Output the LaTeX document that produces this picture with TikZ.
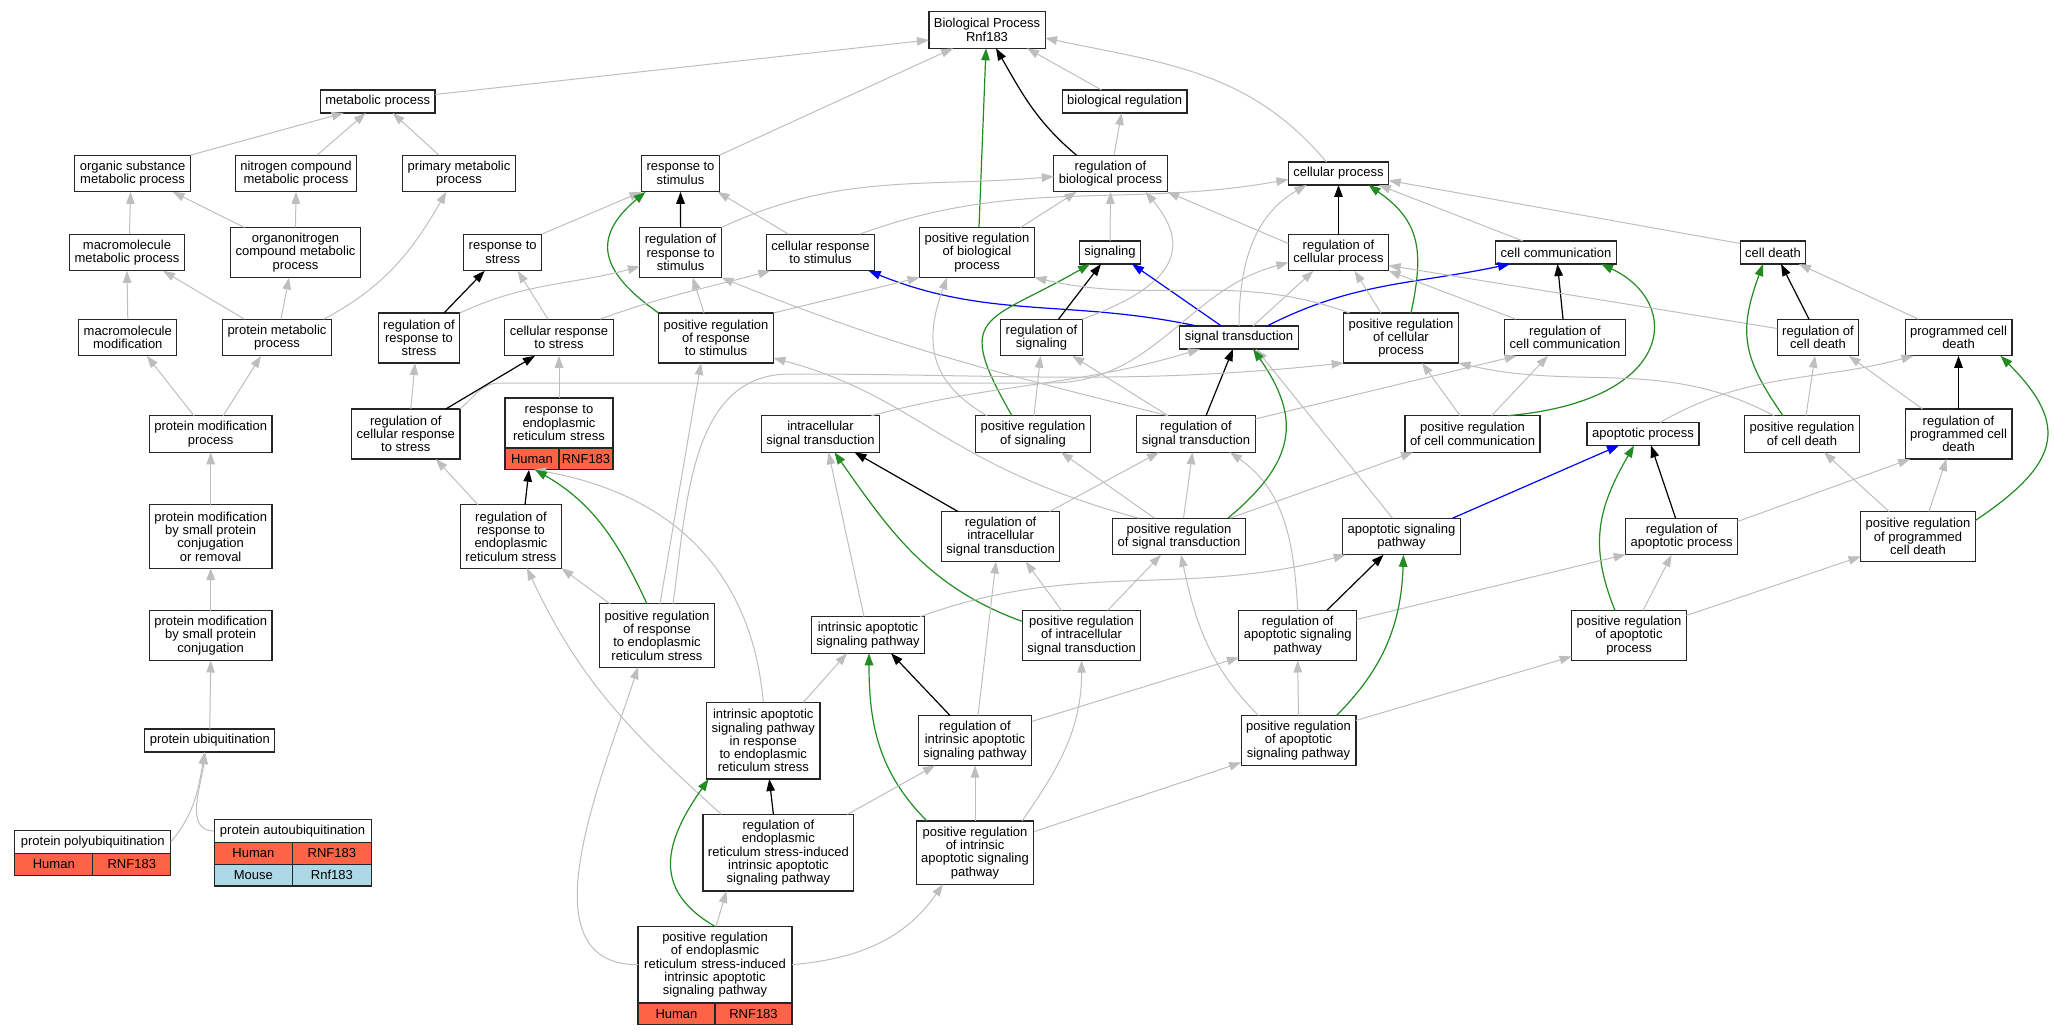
\documentclass[tikz,border=0pt]{standalone}
\usepackage{fontspec}
\setmainfont{Liberation Sans}
\usepackage{tikz}
\usetikzlibrary{arrows.meta}
\definecolor{edgegray}{HTML}{BEBEBE}
\definecolor{posgreen}{HTML}{228B22}
\definecolor{humanred}{HTML}{FF6347}
\definecolor{mouseblue}{HTML}{ADD8E6}
\newcommand{\termfont}{\fontsize{13}{13.3}\selectfont}

\begin{document}
\begin{tikzpicture}[x=1pt,y=1pt]
\tikzstyle{term}=[draw=black!85, line width=1.2pt, fill=white, align=center, inner xsep=5pt, inner ysep=0pt, outer sep=0pt, font=\termfont]
\tikzstyle{l1}=[minimum height=23pt]
\tikzstyle{l2}=[minimum height=36.6pt]
\tikzstyle{l3}=[minimum height=50pt]
\tikzstyle{l4}=[minimum height=63.3pt]
\tikzstyle{l5}=[minimum height=76.6pt]
\tikzstyle{cell}=[draw=black!85, line width=1.2pt, inner sep=0pt, outer sep=0pt, minimum height=21.7pt, font=\termfont]
\tikzstyle{isa}=[draw=edgegray, line width=1pt, -{Triangle[length=12pt,width=8.5pt]}]
\tikzstyle{reg}=[draw=black, line width=1.2pt, -{Triangle[length=12pt,width=8.5pt]}]
\tikzstyle{posreg}=[draw=posgreen, line width=1.2pt, -{Triangle[length=12pt,width=8.5pt]}]
\tikzstyle{partof}=[draw=blue, line width=1.2pt, -{Triangle[length=12pt,width=8.5pt]}]
\useasboundingbox (0,0) rectangle (2054,-1035);

\node[term,l2] (bp) at (987,-30) {Biological Process\\Rnf183};
\node[term,l1] (metab) at (377.7,-101.5) {metabolic process};
\node[term,l1] (bioreg) at (1124.6,-101.5) {biological regulation};
\node[term,l2] (orgsub) at (132.6,-173.5) {organic substance\\metabolic process};
\node[term,l2] (nitro) at (296,-173.5) {nitrogen compound\\metabolic process};
\node[term,l2] (primary) at (459,-173.5) {primary metabolic\\process};
\node[term,l2] (respstim) at (680.5,-173.5) {response to\\stimulus};
\node[term,l2] (regbp) at (1110.5,-173.5) {regulation of\\biological process};
\node[term,l1] (cellproc) at (1338.5,-173.5) {cellular process};
\node[term,l2] (macmet) at (127,-252.5) {macromolecule\\metabolic process};
\node[term,l3] (organonit) at (295.5,-252.5) {organonitrogen\\compound metabolic\\process};
\node[term,l2] (respstress) at (502.7,-252.5) {response to\\stress};
\node[term,l3] (regrespstim) at (680.6,-252.5) {regulation of\\response to\\stimulus};
\node[term,l2] (cellrespstim) at (820.5,-252.5) {cellular response\\to stimulus};
\node[term,l3] (posregbp) at (977,-252.5) {positive regulation\\of biological\\process};
\node[term,l1] (signaling) at (1110,-252.5) {signaling};
\node[term,l2] (regcellproc) at (1338.5,-252.5) {regulation of\\cellular process};
\node[term,l1] (cellcomm) at (1556,-252.5) {cell communication};
\node[term,l1] (celldeath) at (1773,-252.5) {cell death};
\node[term,l2] (macmod) at (127.8,-337.5) {macromolecule\\modification};
\node[term,l2] (protmet) at (277,-337.5) {protein metabolic\\process};
\node[term,l3] (regrespstress) at (419,-338) {regulation of\\response to\\stress};
\node[term,l2] (cellrespstress) at (559,-337.5) {cellular response\\to stress};
\node[term,l3] (posregrespstim) at (716,-338) {positive regulation\\of response\\to stimulus};
\node[term,l2] (regsig) at (1041.5,-337.5) {regulation of\\signaling};
\node[term,l1] (sigtrans) at (1239,-337.5) {signal transduction};
\node[term,l3] (posregcellproc) at (1401,-338) {positive regulation\\of cellular\\process};
\node[term,l2] (regcellcomm) at (1565,-337.5) {regulation of\\cell communication};
\node[term,l2] (regcelldeath) at (1818,-337.5) {regulation of\\cell death};
\node[term,l2] (pcd) at (1958.5,-337.5) {programmed cell\\death};
\node[term,l2] (protmod) at (210.7,-434) {protein modification\\process};
\node[term,l3] (regcellrespstress) at (405.8,-434) {regulation of\\cellular response\\to stress};
\node[term,l3,text width=98pt] (resper) at (559,-423) {response to\\endoplasmic\\reticulum stress};
\node[cell,fill=humanred,minimum width=54pt,anchor=north west] (resperh) at (resper.south west) {Human};
\node[cell,fill=humanred,minimum width=54pt,anchor=north east] (resperg) at (resper.south east) {RNF183};
\node[term,l2] (intrasig) at (820.5,-434) {intracellular\\signal transduction};
\node[term,l2] (posregsig) at (1033,-434) {positive regulation\\of signaling};
\node[term,l2] (regsigtrans) at (1196,-434) {regulation of\\signal transduction};
\node[term,l2] (posregcellcomm) at (1472.5,-434) {positive regulation\\of cell communication};
\node[term,l1] (apoproc) at (1643,-434) {apoptotic process};
\node[term,l2] (posregcelldeath) at (1802,-434) {positive regulation\\of cell death};
\node[term,l3] (regpcd) at (1958.5,-434) {regulation of\\programmed cell\\death};
\node[term,l4] (protmodsmall) at (210.7,-536.5) {protein modification\\by small protein\\conjugation\\or removal};
\node[term,l4] (regresper) at (511,-536.5) {regulation of\\response to\\endoplasmic\\reticulum stress};
\node[term,l3] (regintrasig) at (1000.6,-536.5) {regulation of\\intracellular\\signal transduction};
\node[term,l2] (posregsigtrans) at (1179,-536.5) {positive regulation\\of signal transduction};
\node[term,l2] (aposig) at (1401.5,-536.5) {apoptotic signaling\\pathway};
\node[term,l2] (regapoproc) at (1681.6,-536.5) {regulation of\\apoptotic process};
\node[term,l3] (posregpcd) at (1918,-536.5) {positive regulation\\of programmed\\cell death};
\node[term,l3] (protconj) at (210.7,-635.5) {protein modification\\by small protein\\conjugation};
\node[term,l4] (posregresper) at (657,-635.5) {positive regulation\\of response\\to endoplasmic\\reticulum stress};
\node[term,l2] (intrinsic) at (868,-635) {intrinsic apoptotic\\signaling pathway};
\node[term,l3] (posregintrasig) at (1081.6,-635.5) {positive regulation\\of intracellular\\signal transduction};
\node[term,l3] (regaposig) at (1297.7,-635.5) {regulation of\\apoptotic signaling\\pathway};
\node[term,l3] (posregapoproc) at (1629,-635.5) {positive regulation\\of apoptotic\\process};
\node[term,l1] (protubiq) at (209.8,-740.5) {protein ubiquitination};
\node[term,l5] (intrinsicer) at (763.3,-740.7) {intrinsic apoptotic\\signaling pathway\\in response\\to endoplasmic\\reticulum stress};
\node[term,l3] (regintrinsic) at (975,-740.5) {regulation of\\intrinsic apoptotic\\signaling pathway};
\node[term,l3] (posregaposig) at (1298.5,-740.5) {positive regulation\\of apoptotic\\signaling pathway};
\node[term,l1,minimum width=156pt] (polyubiq) at (92.8,-842) {protein polyubiquitination};
\node[cell,fill=humanred,minimum width=78pt,anchor=north west] (polyh) at (polyubiq.south west) {Human};
\node[cell,fill=humanred,minimum width=78pt,anchor=north east] (polyg) at (polyubiq.south east) {RNF183};
\node[term,l1,minimum width=157pt] (autoubiq) at (292.6,-831) {protein autoubiquitination};
\node[cell,fill=humanred,minimum width=78.5pt,anchor=north west] (autoh) at (autoubiq.south west) {Human};
\node[cell,fill=humanred,minimum width=78.5pt,anchor=north east] (autog) at (autoubiq.south east) {RNF183};
\node[cell,fill=mouseblue,minimum width=78.5pt,anchor=north west] (autom) at (autoh.south west) {Mouse};
\node[cell,fill=mouseblue,minimum width=78.5pt,anchor=north east] (automg) at (autog.south east) {Rnf183};
\node[term,l5] (regerintrinsic) at (778.4,-852.7) {regulation of\\endoplasmic\\reticulum stress-induced\\intrinsic apoptotic\\signaling pathway};
\node[term,l4] (posregintrinsic) at (975,-852.7) {positive regulation\\of intrinsic\\apoptotic signaling\\pathway};
\node[term,l5,text width=144pt] (posregerintr) at (715,-964.7) {positive regulation\\of endoplasmic\\reticulum stress-induced\\intrinsic apoptotic\\signaling pathway};
\node[cell,fill=humanred,minimum width=77pt,anchor=north west] (posregerh) at (posregerintr.south west) {Human};
\node[cell,fill=humanred,minimum width=77pt,anchor=north east] (posregerg) at (posregerintr.south east) {RNF183};

% top
\draw[isa] ([yshift=7pt]metab.east) -- ([yshift=-10pt]bp.west);
\draw[isa] (respstim.north east) -- ([xshift=-34pt]bp.south);
\draw[posreg] ([xshift=2pt]posregbp.north) -- ([xshift=-1pt]bp.south);
\draw[reg] ([xshift=-34pt]regbp.north) to[out=140,in=-60] ([xshift=9pt]bp.south);
\draw[isa] ([xshift=-23pt]bioreg.north) -- ([xshift=40pt]bp.south);
\draw[isa] ([xshift=-12pt]cellproc.north) to[out=130,in=-12] ([yshift=-8pt]bp.east);
\draw[isa] ([xshift=3.5pt]regbp.north) -- ([xshift=-3pt]bioreg.south);

% metabolic
\draw[isa] (orgsub.north east) -- ([xshift=-34pt]metab.south);
\draw[isa] ([xshift=21pt]nitro.north) -- ([xshift=-12pt]metab.south);
\draw[isa] ([xshift=-20pt]primary.north) -- ([xshift=15pt]metab.south);
\draw[isa] ([xshift=2.5pt]macmet.north) -- ([xshift=-2pt]orgsub.south);
\draw[isa] ([xshift=-51pt]organonit.north) -- ([xshift=40pt]orgsub.south);
\draw[isa] (organonit.north) -- (nitro.south);
\draw[isa] (macmod.north) -- (macmet.south);
\draw[isa] ([xshift=-32.5pt]protmet.north) -- ([xshift=36pt]macmet.south);
\draw[isa] ([xshift=4pt]protmet.north) -- ([xshift=-6.5pt]organonit.south);
\draw[isa] ([xshift=46.7pt]protmet.north) to[out=28,in=-120] ([xshift=-12.6pt]primary.south);
\draw[isa] ([xshift=-16.7pt]protmod.north) -- ([xshift=19pt]macmod.south);
\draw[isa] ([xshift=12.5pt]protmod.north) -- ([xshift=-16pt]protmet.south);
\draw[isa] (protmodsmall.north) -- (protmod.south);
\draw[isa] (protconj.north) -- (protmodsmall.south);
\draw[isa] (protubiq.north) -- (protconj.south);
\draw[isa] (polyubiq.east) to[out=50,in=-100] ([xshift=-5pt]protubiq.south);
\draw[isa] (autoubiq.west) to[out=180,in=-95] ([xshift=-5pt]protubiq.south);

% response to stimulus
\draw[isa] (respstress.north east) -- (respstim.south west);
\draw[reg] (regrespstim.north) -- (respstim.south);
\draw[isa] ([xshift=-32pt]cellrespstim.north) -- ([xshift=37pt]respstim.south);
\draw[posreg] (posregrespstim.north west) to[out=145,in=-140,looseness=1.5] ([xshift=4pt]respstim.south west);
\draw[isa] (regrespstim.north east) to[out=25,in=185] ([yshift=-3pt]regbp.west);
\draw[isa] ([xshift=39pt]cellrespstim.north) to[out=20,in=190] ([yshift=-6pt]cellproc.west);
\draw[partof] ([xshift=-42pt]sigtrans.north) to[out=168,in=-22] ([xshift=-6pt]cellrespstim.south east);
\draw[reg] ([xshift=25pt]regrespstress.north) -- ([xshift=-18pt]respstress.south);
\draw[isa] (regrespstress.north east) to[out=25,in=195] ([yshift=-14pt]regrespstim.west);
\draw[isa] ([xshift=-11pt]cellrespstress.north) -- ([xshift=15pt]respstress.south);
\draw[isa] ([xshift=41pt]cellrespstress.north) to[out=20,in=-165] ([xshift=4pt]cellrespstim.south west);
\draw[isa] ([xshift=-12pt]posregrespstim.north) -- ([xshift=12pt]regrespstim.south);
\draw[isa] (posregrespstim.north east) -- (posregbp.south west);
\draw[isa] ([xshift=43.5pt]posregbp.north) -- ([xshift=-34pt]regbp.south);
\draw[isa] (signaling.north) -- (regbp.south);
\draw[isa] (regsig.north east) to[out=20,in=-50,looseness=1.5] ([xshift=35pt]regbp.south);
\draw[isa] ([yshift=9pt]regcellproc.west) -- (regbp.south east);
\draw[reg] ([xshift=17pt]regsig.north) -- ([xshift=-9pt]signaling.south);
\draw[partof] ([xshift=-17.6pt]sigtrans.north) -- ([xshift=22pt]signaling.south);
\draw[posreg] ([xshift=-21pt]posregsig.north) to[out=120,in=-150,looseness=1.8] ([xshift=-20pt]signaling.south);

% cellular process
\draw[reg] (regcellproc.north) -- (cellproc.south);
\draw[posreg] ([xshift=10pt]posregcellproc.north) to[out=78,in=-35,looseness=1.2] ([xshift=30pt]cellproc.south);
\draw[isa] ([xshift=-33pt]cellcomm.north) -- ([xshift=-10pt]cellproc.south east);
\draw[isa] ([yshift=9pt]celldeath.west) -- ([yshift=-7pt]cellproc.east);
\draw[isa] (sigtrans.north) to[out=90,in=-150] ([xshift=-32pt]cellproc.south);
\draw[isa] ([xshift=14pt]sigtrans.north) -- ([xshift=-25pt]regcellproc.south);
\draw[partof] ([xshift=28pt]sigtrans.north) to[out=27,in=-168] ([xshift=-46pt]cellcomm.south);
\draw[reg] ([xshift=-2pt]regcellcomm.north) -- ([xshift=1.5pt]cellcomm.south);
\draw[posreg] ([xshift=35pt]posregcellcomm.north) to[out=5,in=-25,out distance=170pt,in distance=90pt] ([xshift=45pt]cellcomm.south);
\draw[isa] ([xshift=-49pt]regcellcomm.north) -- (regcellproc.south east);
\draw[isa] ([yshift=9pt]regcelldeath.west) -- ([yshift=-13pt]regcellproc.east);
\draw[isa] ([xshift=-20pt]posregcellproc.north) -- ([xshift=16pt]regcellproc.south);
\draw[isa] ([xshift=6pt]posregcellproc.north west) to[out=160,in=-13] (posregbp.south east);

% cell death
\draw[reg] ([xshift=-9pt]regcelldeath.north) -- ([xshift=8pt]celldeath.south);
\draw[posreg] ([xshift=-19pt]posregcelldeath.north) to[out=125,in=-110,looseness=1.2] ([xshift=-10pt]celldeath.south);
\draw[isa] ([xshift=-40pt]pcd.north) -- ([xshift=-7pt]celldeath.south east);
\draw[isa] ([xshift=4pt]posregcelldeath.north) -- ([xshift=-3pt]regcelldeath.south);
\draw[isa] ([xshift=-36pt]regpcd.north) -- ([xshift=-10pt]regcelldeath.south east);
\draw[reg] (regpcd.north) -- (pcd.south);
\draw[posreg] ([yshift=16pt]posregpcd.east) to[out=34,in=-45,out distance=100pt,in distance=100pt] ([xshift=42pt]pcd.south);
\draw[isa] ([xshift=11pt]posregpcd.north) -- ([xshift=-12pt]regpcd.south);
\draw[isa] ([xshift=-29pt]posregpcd.north) -- ([xshift=22pt]posregcelldeath.south);
\draw[isa] ([xshift=17pt]apoproc.north) to[out=30,in=-165] ([xshift=-45pt]pcd.south);
\draw[isa] ([xshift=-28pt]posregcelldeath.north) to[out=152,in=-13] (posregcellproc.south east);
\draw[isa] ([xshift=-12.5pt]posregcellcomm.north) -- ([xshift=21pt]posregcellproc.south);
\draw[isa] ([xshift=19pt]posregcellcomm.north) -- ([xshift=-17pt]regcellcomm.south);
\draw[isa] ([xshift=51pt]posregsigtrans.north) -- ([xshift=8pt]posregcellcomm.south west);
\draw[isa] ([yshift=15pt]regsigtrans.east) -- ([xshift=12pt]regcellcomm.south west);

% apoptosis
\draw[isa] ([xshift=-9pt]aposig.north) -- ([xshift=17pt]sigtrans.south);
\draw[partof] ([xshift=51pt]aposig.north) -- ([xshift=-24pt]apoproc.south);
\draw[reg] ([xshift=-6pt]regapoproc.north) -- ([xshift=8pt]apoproc.south);
\draw[posreg] ([xshift=-14pt]posregapoproc.north) to[out=112,in=-120,looseness=1.1] ([xshift=-9pt]apoproc.south);
\draw[isa] ([xshift=14pt]posregapoproc.north) -- ([xshift=-10pt]regapoproc.south);
\draw[isa] ([yshift=20pt]posregapoproc.east) -- ([yshift=-20pt]posregpcd.west);
\draw[isa] ([yshift=15pt]regapoproc.east) -- ([xshift=5pt]regpcd.south west);
\draw[isa] ([yshift=16pt]regaposig.east) -- ([yshift=-18pt]regapoproc.west);
\draw[reg] ([xshift=29pt]regaposig.north) -- ([xshift=-18pt]aposig.south);
\draw[posreg] ([xshift=38pt]posregaposig.north) to[out=45,in=-92] ([xshift=2pt]aposig.south);
\draw[isa] ([yshift=20pt]posregaposig.east) -- ([yshift=-21pt]posregapoproc.west);
\draw[isa] (posregaposig.north) -- (regaposig.south);
\draw[isa] ([xshift=-40pt]posregaposig.north) to[out=135,in=-78] ([xshift=2pt]posregsigtrans.south);
\draw[isa] (regaposig.north) to[out=93,in=-35] ([xshift=34pt]regsigtrans.south);

% signal transduction
\draw[reg] ([xshift=10pt]regsigtrans.north) -- ([xshift=-6pt]sigtrans.south);
\draw[posreg] ([xshift=49pt]posregsigtrans.north) to[out=40,in=-55,looseness=1.3] ([xshift=14pt]sigtrans.south);
\draw[isa] ([xshift=4.5pt]posregsigtrans.north) -- ([xshift=-3.5pt]regsigtrans.south);
\draw[isa] ([xshift=-24.5pt]posregsigtrans.north) -- ([xshift=28pt]posregsig.south);
\draw[isa] ([xshift=-40pt]posregsigtrans.north) to[out=165,in=-15,out distance=200pt,in distance=150pt] ([yshift=5pt]posregrespstim.south east);
\draw[isa] ([xshift=-28pt]regsigtrans.north) to[out=166,in=-22] (regrespstim.south east);
\draw[isa] ([xshift=-28pt]regsigtrans.north) -- ([xshift=-10pt]regsig.south east);
\draw[isa] ([xshift=1pt]posregsig.north) -- ([xshift=-1pt]regsig.south);
\draw[isa] ([xshift=-46pt]posregsig.north) to[out=150,in=-110,looseness=1.2] ([xshift=-30pt]posregbp.south);
\draw[isa] ([xshift=51pt]intrasig.north) to[out=15,in=-163] ([xshift=-39pt]sigtrans.south);

% long connectors
\draw[isa] (regcellrespstress.north east) to[out=40,in=180] (500,-383) -- (1050,-383) to[out=0,in=195] ([yshift=-10pt]regcellproc.west);
\draw[isa] ([xshift=16pt]posregresper.north) to[out=82,in=180] (790,-374) to[out=0,in=186] (posregcellproc.south west);

% ER stress
\draw[isa] (intrinsicer.north) to[out=95,in=-10,out distance=144pt,in distance=126pt] ([xshift=2pt]resperh.south);
\draw[reg] ([xshift=14pt]regresper.north) -- ([xshift=-3pt]resperh.south);
\draw[posreg] ([xshift=-10pt]posregresper.north) to[out=115,in=-30] ([xshift=3pt]resperh.south);
\draw[isa] ([xshift=-47pt]posregresper.north) -- (regresper.south east);
\draw[isa] ([xshift=-33pt]regresper.north) -- ([xshift=30pt]regcellrespstress.south);
\draw[isa] (resper.north) -- (cellrespstress.south);
\draw[reg] ([xshift=40pt]regcellrespstress.north) -- ([xshift=-24pt]cellrespstress.south);
\draw[isa] ([xshift=5pt]regcellrespstress.north) -- ([xshift=-4pt]regrespstress.south);
\draw[isa] ([xshift=3pt]posregresper.north) -- ([xshift=-15pt]posregrespstim.south);

% intracellular and intrinsic
\draw[reg] ([xshift=-42.6pt]regintrasig.north) -- ([xshift=34pt]intrasig.south);
\draw[isa] ([xshift=49pt]regintrasig.north) -- ([xshift=-37pt]regsigtrans.south);
\draw[posreg] ([yshift=14pt]posregintrasig.west) to[out=160,in=-55] ([xshift=14pt]intrasig.south);
\draw[isa] ([xshift=-20pt]posregintrasig.north) -- ([xshift=25pt]regintrasig.south);
\draw[isa] ([xshift=26pt]posregintrasig.north) -- ([xshift=-18pt]posregsigtrans.south);
\draw[isa] ([xshift=-4pt]intrinsic.north) -- ([xshift=8pt]intrasig.south);
\draw[isa] ([xshift=52pt]intrinsic.north) to[out=20,in=-165] ([xshift=3pt]aposig.south west);
\draw[reg] ([xshift=-25pt]regintrinsic.north) -- ([xshift=23pt]intrinsic.south);
\draw[isa] ([yshift=19pt]regintrinsic.east) -- ([yshift=3pt]regaposig.south west);
\draw[isa] ([xshift=3pt]regintrinsic.north) -- ([xshift=-4.6pt]regintrasig.south);
\draw[posreg] ([xshift=-48pt]posregintrinsic.north) to[out=135,in=-90] ([xshift=1pt]intrinsic.south);
\draw[isa] (posregintrinsic.north) -- (regintrinsic.south);
\draw[isa] ([yshift=21pt]posregintrinsic.east) -- ([yshift=3pt]posregaposig.south west);
\draw[isa] ([xshift=47pt]posregintrinsic.north) to[out=55,in=-90] (posregintrasig.south);
\draw[isa] ([xshift=40pt]intrinsicer.north) -- ([xshift=-21pt]intrinsic.south);
\draw[reg] ([xshift=-5pt]regerintrinsic.north) -- ([xshift=6pt]intrinsicer.south);
\draw[isa] ([xshift=69pt]regerintrinsic.north) -- ([xshift=-40pt]regintrinsic.south);
\draw[isa] ([xshift=-57pt]regerintrinsic.north) to[out=138,in=-65] ([xshift=16pt]regresper.south);

% annotated term
\draw[isa] ([xshift=1pt]posregerintr.north) -- ([xshift=-52pt]regerintrinsic.south);
\draw[posreg] (posregerintr.north) to[out=150,in=-125,looseness=1.3] ([xshift=2pt]intrinsicer.south west);
\draw[isa] (posregerintr.east) to[out=5,in=-125] ([xshift=-32pt]posregintrinsic.south);
\draw[isa] (posregerintr.west) to[out=180,in=-108] ([xshift=-19pt]posregresper.south);
\end{tikzpicture}
\end{document}
